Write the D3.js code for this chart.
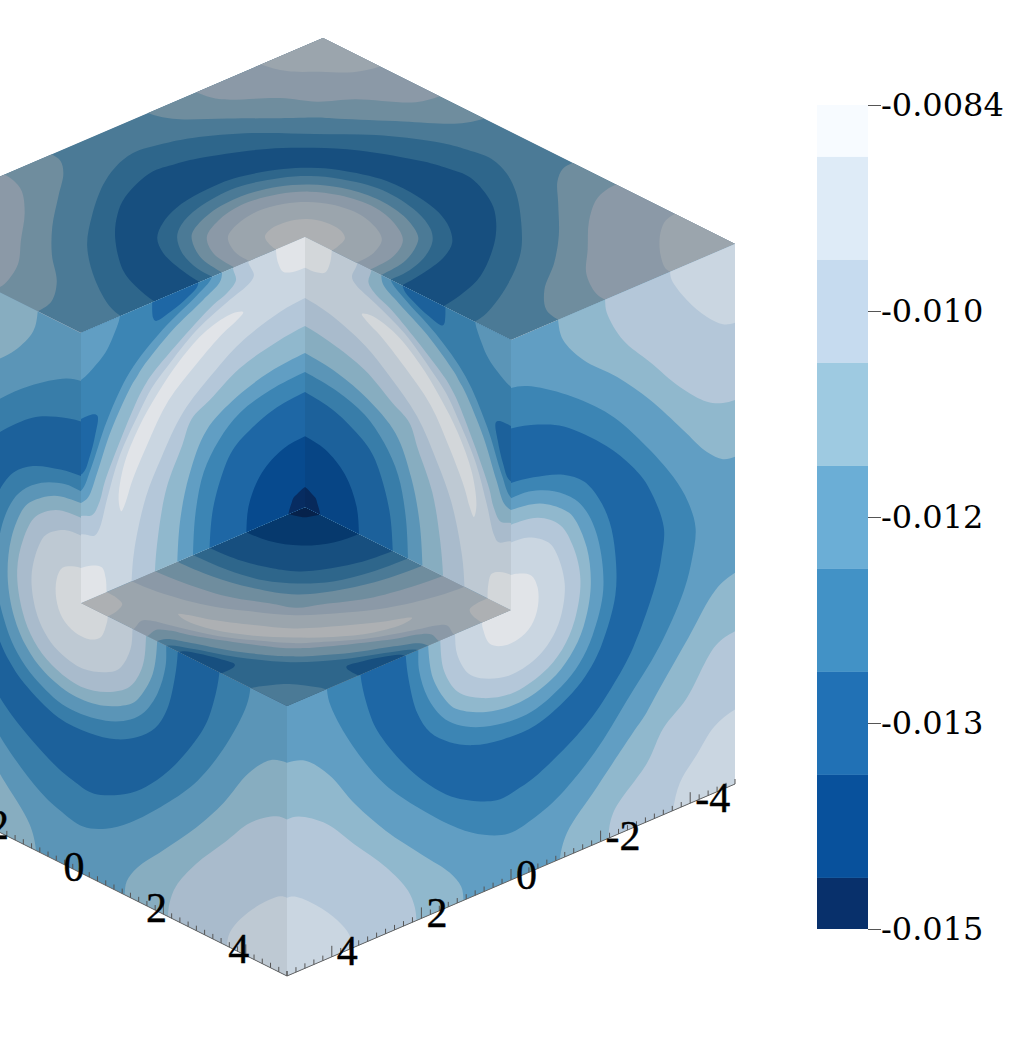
<!DOCTYPE html>
<html>
<head>
<meta charset="utf-8">
<script src="https://cdn.jsdelivr.net/npm/d3@7"></script>
<style>
  body { margin: 0; background: #fff; }
</style>
</head>
<body>
<div id="chart"></div>
<script>
// Colour bar values.
const barColors = ["#f7fbff", "#deebf7", "#c6dbef", "#9ecae1", "#6baed6", "#4292c6", "#2171b5", "#08519c", "#08306b"];
const barEdges = [-0.0084, -0.008816, -0.009641, -0.010466, -0.011291, -0.012116, -0.012941, -0.013766, -0.014591, -0.015];
const barTicks = [-0.0084, -0.01005, -0.0117, -0.01335, -0.015];
const barLabels = ["-0.0084", "-0.010", "-0.012", "-0.013", "-0.015"];

// Contours of the outer cube faces, in data units. Each ring runs from the cut edge to the diagonal.
const outerRing5 = [[0, 4.11], [-0.36, 4.02], [-1.25, 3.54], [-2.21, 2.83], [-2.95, 2.04], [-3.62, 1.18], [-3.95, 0.6], [-4.12, 0.05], [-4.03, -0.53], [-3.85, -1.03], [-3.3, -1.87], [-2.59, -2.59]];
const outerRing6 = [[0, 3.36], [-0.6, 3.22], [-1.18, 2.98], [-2.13, 2.28], [-2.7, 1.7], [-3.06, 1.2], [-3.41, 0.32], [-3.36, -0.2], [-3.24, -0.64], [-2.73, -1.66], [-2.24, -2.24]];
const outerRingBack5 = [[0, 2.35], [-0.5, 2.28], [-1.17, 2.09], [-1.63, 1.8], [-1.96, 1.37], [-2.2, 0.85], [-2.33, 0.2], [-2.33, -0.55], [-2.02, -1.37], [-1.74, -1.74]];
const outerRingBack4 = [[0, 2.07], [-0.4, 2.05], [-0.96, 1.86], [-1.43, 1.54], [-1.7, 1.2], [-1.95, 0.6], [-2.06, -0.35], [-1.82, -1.12], [-1.53, -1.53]];
const outerRingBack3 = [[0, 1.85], [-0.65, 1.74], [-1.19, 1.43], [-1.39, 1.23], [-1.69, 0.56], [-1.78, -0.2], [-1.62, -0.88], [-1.32, -1.32]];
const outerRingBack2 = [[0, 1.58], [-0.61, 1.49], [-1.1, 1.18], [-1.4, 0.65], [-1.55, 0.0], [-1.42, -0.7], [-1.14, -1.14]];
const outerRingBack1 = [[0, 1.25], [-0.4, 1.2], [-0.84, 0.95], [-1.02, 0.68], [-1.2, 0.05], [-1.1, -0.55], [-0.88, -0.88]];
const outerRingBack0 = [[0, 0.65], [-0.15, 0.62], [-0.45, 0.48], [-0.59, 0.22], [-0.6, -0.15], [-0.45, -0.45]];

// Contours around the far cube corner, bottom edge to diagonal.
const farCorner3 = [[-1.09, -5], [-1.25, -4.57], [-1.92, -3.96], [-2.72, -3.24], [-3, -3]];
const farCorner2 = [[-2.17, -5], [-2.28, -4.57], [-3.04, -3.91], [-3.4, -3.4]];
const farCorner1 = [[-3.62, -5], [-3.77, -4.54], [-4.15, -4.15]];

// Contours around the side cube corners, edge to edge.
const sideCorner3 = [[-1.05, 5], [-1.16, 4.59], [-1.61, 4.06], [-2.37, 3.47], [-3.1, 2.79], [-3.84, 1.97], [-4.375, 1.37], [-4.73, 1.11], [-5, 1.06]];
const sideCorner2 = [[-2.1, 5], [-2.14, 4.74], [-2.5, 4.11], [-3.1, 3.49], [-3.77, 2.79], [-4.375, 2.3], [-4.73, 2.15], [-5, 2.11]];
const sideCorner1 = [[-3.55, 5], [-3.59, 4.83], [-3.93, 4.34], [-4.375, 3.87], [-4.73, 3.61], [-5, 3.54]];

// Contours of the inner faces of the cut, around the cube centre.
const innerCore2 = [[0, 3.87], [0.56, 3.81], [1.45, 3.55], [2.05, 3.21], [2.72, 2.72]];
const innerCore3 = [[0, 3.35], [0.63, 3.28], [1.45, 3.09], [2.12, 2.74], [2.53, 2.53]];
const innerCore4 = [[0, 2.85], [0.78, 2.78], [1.52, 2.58], [2.2, 2.2]];
const innerCore5 = [[0, 2.5], [0.78, 2.44], [1.45, 2.26], [1.92, 1.92]];
const innerCore6 = [[0, 2.13], [0.71, 2.05], [1.38, 1.79], [1.62, 1.62]];
const innerCore7 = [[0, 1.31], [0.49, 1.25], [0.97, 0.97]];
const innerCore8 = [[0, 0.37], [0.18, 0.3], [0.26, 0.26]];

// Contours of the inner faces towards the outer corner of the cut.
const innerOuter2 = [[1.27, 5], [1.14, 4.7], [1.23, 4.59], [1.74, 4.41], [2.41, 4.14], [3.08, 3.69], [3.42, 3.42]];
const innerOuter3 = [[1.61, 5], [1.54, 4.75], [1.74, 4.58], [2.05, 4.47], [2.72, 4.11], [3.39, 3.69], [3.55, 3.55]];
const innerOuter4 = [[1.85, 5], [1.9, 4.84], [2.28, 4.64], [2.95, 4.33], [3.62, 3.88], [3.75, 3.75]];
const innerOuter5 = [[2.08, 5], [2.41, 4.78], [3.17, 4.42], [3.9, 3.9]];
const innerOuterBack4 = [[4.13, 5], [4.29, 4.67], [4.45, 4.45]];

// Small closed islands on the inner faces.
const innerStrip0 = [[3.28, 3.28], [2.79, 3.71], [2.19, 4.05], [1.61, 4.16], [1.38, 4.1], [1.52, 4], [1.83, 3.87], [2.41, 3.52], [3.05, 3.05]];
const innerLobe6 = [[2.39, 5.4], [2.39, 4.96], [2.63, 4.81], [3.01, 4.68], [3.33, 4.63], [3.39, 4.71], [3.39, 5.4]];
const innerLobe0 = [[-0.4, 4.43], [0, 4.43], [0.27, 4.45], [0.49, 4.53], [0.6, 4.73], [0.65, 5], [0.65, 5.4]];

// Axis labels.
const frontLabels = [-4, -2, 0, 2, 4];
const sideLabels = [-2, 0, 2, 4];

// Face brightness.
const shadeSide = 0.91;
const shadeDim = 0.855;
const shadeFlat = 0.7;

const width = 1017;
const height = 1056;

// Make the cube projection scales. x, y and z each add to the screen position.
const centre = { x: 305, y: 507 };
let xToLeft = d3.scaleLinear().domain([0, 5]).range([0, -224]);
let xToDown = d3.scaleLinear().domain([0, 5]).range([0, 96]);
let yToLeft = d3.scaleLinear().domain([0, 5]).range([0, 206]);
let yToDown = d3.scaleLinear().domain([0, 5]).range([0, 103]);
let zToDown = d3.scaleLinear().domain([0, 5]).range([0, -270]);

function project(x, y, z) {
    return [centre.x + xToLeft(x) + yToLeft(y), centre.y + xToDown(x) + yToDown(y) + zToDown(z)];
}

function swap(points) {
    return points.map(([a, b]) => [b, a]);
}

// Joins a half contour with its mirror image across the diagonal.
function fold(half) {
    return half.concat(swap(half.slice(0, -1)).reverse());
}

function ring(band, half) {
    const b = half[0][1];
    return { band, points: [[0.4, b], ...fold(half), [b, 0.4]], tail: [] };
}

function farCorner(band, half) {
    const a = half[0][0];
    return { band, points: [[a, -5.5], ...fold(half), [-5.5, a]], tail: [[-5.5, -5.5]] };
}

function sideCorner(band, line, flipped) {
    const first = line[0], last = line[line.length - 1];
    const points = [[first[0], 5.5], ...line, [-5.5, last[1]]];
    return flipped
        ? { band, points: swap(points), tail: [[5.5, -5.5]] }
        : { band, points, tail: [[-5.5, 5.5]] };
}

function core(band, half) {
    const t = half[0][1];
    return { band, points: [[-0.4, t], ...fold(half), [t, -0.4]], tail: [[-0.4, -0.4]] };
}

function outerCorner(band, half) {
    const s = half[0][0];
    return { band, points: [[s, 5.4], ...fold(half), [5.4, s]], tail: [[5.4, 5.4]] };
}

// Layers are painted in order, so each one sits on the band below it.
const outerLayers = [
    sideCorner(3, sideCorner3, false), sideCorner(3, sideCorner3, true), farCorner(3, farCorner3),
    sideCorner(2, sideCorner2, false), sideCorner(2, sideCorner2, true), farCorner(2, farCorner2),
    sideCorner(1, sideCorner1, false), sideCorner(1, sideCorner1, true), farCorner(1, farCorner1),
    ring(5, outerRing5), ring(6, outerRing6), ring(5, outerRingBack5), ring(4, outerRingBack4),
    ring(3, outerRingBack3), ring(2, outerRingBack2), ring(1, outerRingBack1), ring(0, outerRingBack0)
];

const innerLayers = [
    outerCorner(2, innerOuter2), outerCorner(3, innerOuter3), outerCorner(4, innerOuter4), outerCorner(5, innerOuter5),
    { band: 6, points: innerLobe6, tail: [] },
    { band: 6, points: swap(innerLobe6), tail: [] },
    outerCorner(4, innerOuterBack4),
    { band: 0, points: fold(innerStrip0).slice(0, -1), tail: [], closed: true },
    { band: 0, points: innerLobe0, tail: [[-0.4, 5.4]] },
    { band: 0, points: swap(innerLobe0), tail: [[5.4, -0.4]] },
    core(2, innerCore2), core(3, innerCore3), core(4, innerCore4), core(5, innerCore5),
    core(6, innerCore6), core(7, innerCore7), core(8, innerCore8)
];

// Each face places the two contour coordinates on a plane of the cube.
const outerSquare = [[-5, -5], [5, -5], [5, 5], [-5, 5]];
const innerSquare = [[0, 0], [5, 0], [5, 5], [0, 5]];
const faces = [
    { id: "top", shade: shadeFlat, base: 4, layers: outerLayers, square: outerSquare, place: (a, b) => project(a, b, 5) },
    { id: "right", shade: shadeSide, base: 4, layers: outerLayers, square: outerSquare, place: (a, b) => project(a, 5, b) },
    { id: "left", shade: shadeDim, base: 4, layers: outerLayers, square: outerSquare, place: (a, b) => project(5, a, b) },
    { id: "floor", shade: shadeFlat, base: 1, layers: innerLayers, square: innerSquare, place: (a, b) => project(a, b, 0) },
    { id: "innerRight", shade: shadeDim, base: 1, layers: innerLayers, square: innerSquare, place: (a, b) => project(0, a, b) },
    { id: "innerLeft", shade: shadeSide, base: 1, layers: innerLayers, square: innerSquare, place: (a, b) => project(a, 0, b) }
];

function shaded(band, shade) {
    const c = d3.rgb(barColors[band]);
    return d3.rgb(c.r * shade, c.g * shade, c.b * shade).formatHex();
}

let svg = d3.select("#chart")
    .append("svg")
    .attr("width", width)
    .attr("height", height)
    .style("display", "block");

let defs = svg.append("defs");

// Draw the faces.
faces.forEach(face => {
    const spot = p => face.place(p[0], p[1]);
    const outline = face.square.map(spot);

    defs.append("clipPath")
        .attr("id", "clip-" + face.id)
        .append("polygon")
        .attr("points", outline.join(" "));

    // Mid tone under each face, so the seams between faces don't show white.
    svg.append("polygon")
        .attr("points", outline.join(" "))
        .attr("fill", "#7f9db0");

    let g = svg.append("g").attr("clip-path", "url(#clip-" + face.id + ")");

    g.append("polygon")
        .attr("points", outline.join(" "))
        .attr("fill", shaded(face.base, face.shade));

    const openLine = d3.line().curve(d3.curveCatmullRom.alpha(0.5));
    const closedLine = d3.line().curve(d3.curveCatmullRomClosed.alpha(0.5));

    face.layers.forEach(layer => {
        const placed = layer.points.map(spot);
        let path = layer.closed ? closedLine(placed) : openLine(placed);
        layer.tail.map(spot).forEach(p => { path += "L" + p[0] + "," + p[1]; });
        g.append("path")
            .attr("d", path + (layer.closed ? "" : "Z"))
            .attr("fill", shaded(layer.band, face.shade));
    });
});

// Create the two bottom axes, running along the lower cube edges.
let axisScale = d3.scaleLinear().domain([-5, 5]);
const axisTicks = axisScale.ticks(50);

const edges = [
    { at: v => project(v, 5, -5), labels: frontLabels, anchor: "start", dx: 5, dy: 8.5 },
    { at: v => project(5, v, -5), labels: sideLabels, anchor: "middle", dx: -7, dy: 7.5 }
];

edges.forEach(edge => {
    const from = edge.at(-5), to = edge.at(5);
    svg.append("line")
        .attr("x1", from[0]).attr("y1", from[1])
        .attr("x2", to[0]).attr("y2", to[1])
        .attr("stroke", "#666")
        .attr("stroke-width", 1);

    svg.append("g").selectAll("line")
        .data(axisTicks)
        .enter()
        .append("line")
        .attr("x1", d => edge.at(d)[0])
        .attr("y1", d => edge.at(d)[1])
        .attr("x2", d => edge.at(d)[0])
        .attr("y2", d => edge.at(d)[1] - (frontLabels.includes(d) ? 11 : 5))
        .attr("stroke", "#555")
        .attr("stroke-width", 1);

    svg.append("g").selectAll("text")
        .data(edge.labels)
        .enter()
        .append("text")
        .attr("x", d => edge.at(d)[0] + edge.dx)
        .attr("y", d => edge.at(d)[1] + edge.dy)
        .attr("text-anchor", edge.anchor)
        .style("font-family", "'Liberation Serif'")
        .style("font-size", "42px")
        .attr("fill", "#000")
        .attr("stroke", "#000")
        .attr("stroke-width", 0.4)
        .text(d => d);
});

// Create the colour bar.
let barY = d3.scaleLinear().domain([-0.015, -0.0084]).range([929, 105]);

svg.append("g").selectAll("rect")
    .data(barColors)
    .enter()
    .append("rect")
    .attr("x", 817)
    .attr("width", 51)
    .attr("y", (d, i) => barY(barEdges[i]))
    .attr("height", (d, i) => barY(barEdges[i + 1]) - barY(barEdges[i]))
    .attr("fill", d => d);

let barAxis = svg.append("g")
    .attr("transform", "translate(868,0)")
    .call(d3.axisRight(barY)
        .tickValues(barTicks)
        .tickFormat((d, i) => barLabels[i])
        .tickSize(13)
        .tickPadding(0));

barAxis.select(".domain").remove();
barAxis.selectAll("line").attr("stroke", "#555");
barAxis.selectAll("text")
    .style("font-family", "'DejaVu Serif'")
    .style("font-size", "32px")
    .attr("fill", "#000");
</script>
</body>
</html>
